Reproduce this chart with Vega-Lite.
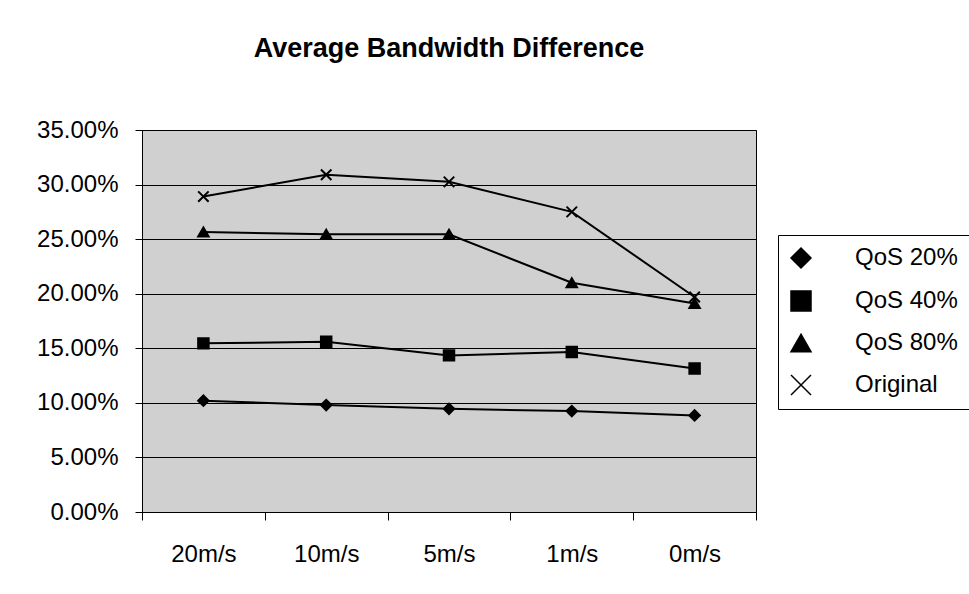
{
  "$schema": "https://vega.github.io/schema/vega-lite/v6.json",
  "width": 614,
  "height": 382,
  "autosize": {"type": "none"},
  "padding": {"left": 142, "top": 130, "right": 213, "bottom": 82},
  "background": "white",
  "config": {
    "view": {"stroke": "black", "strokeWidth": 1, "fill": "#d0d0d0"},
    "font": "Liberation Sans"
  },
  "title": {
    "text": "Average Bandwidth Difference",
    "fontSize": 27,
    "fontWeight": "bold",
    "font": "Liberation Sans",
    "color": "black",
    "anchor": "middle",
    "offset": 55
  },
  "data": {
    "values": [
      {"speed": "20m/s", "series": "QoS 20%", "label": "QoS 20%", "value": 0.102},
      {"speed": "10m/s", "series": "QoS 20%", "label": "QoS 20%", "value": 0.098},
      {"speed": "5m/s", "series": "QoS 20%", "label": "QoS 20%", "value": 0.0945},
      {"speed": "1m/s", "series": "QoS 20%", "label": "QoS 20%", "value": 0.0925},
      {"speed": "0m/s", "series": "QoS 20%", "label": "QoS 20%", "value": 0.0885},
      {"speed": "20m/s", "series": "QoS 40%", "label": "QoS 40%", "value": 0.1545},
      {"speed": "10m/s", "series": "QoS 40%", "label": "QoS 40%", "value": 0.156},
      {"speed": "5m/s", "series": "QoS 40%", "label": "QoS 40%", "value": 0.1435},
      {"speed": "1m/s", "series": "QoS 40%", "label": "QoS 40%", "value": 0.1465},
      {"speed": "0m/s", "series": "QoS 40%", "label": "QoS 40%", "value": 0.1315},
      {"speed": "20m/s", "series": "QoS 80%", "label": "QoS 80%", "value": 0.2565},
      {"speed": "10m/s", "series": "QoS 80%", "label": "QoS 80%", "value": 0.2545},
      {"speed": "5m/s", "series": "QoS 80%", "label": "QoS 80%", "value": 0.2545},
      {"speed": "1m/s", "series": "QoS 80%", "label": "QoS 80%", "value": 0.21},
      {"speed": "0m/s", "series": "QoS 80%", "label": "QoS 80%", "value": 0.191},
      {"speed": "20m/s", "series": "Original", "label": "Original", "value": 0.289},
      {"speed": "10m/s", "series": "Original", "label": "Original", "value": 0.309},
      {"speed": "5m/s", "series": "Original", "label": "Original", "value": 0.3025},
      {"speed": "1m/s", "series": "Original", "label": "Original", "value": 0.275},
      {"speed": "0m/s", "series": "Original", "label": "Original", "value": 0.197}
    ]
  },
  "encoding": {
    "x": {
      "field": "speed",
      "type": "nominal",
      "sort": ["20m/s", "10m/s", "5m/s", "1m/s", "0m/s"],
      "scale": {"type": "band", "paddingInner": 0, "paddingOuter": 0},
      "axis": {
        "title": null,
        "labelAngle": 0,
        "labelFontSize": 24,
        "labelFont": "Liberation Sans",
        "labelColor": "black",
        "tickBand": "extent",
        "tickColor": "black",
        "tickSize": 8,
        "labelPadding": 22,
        "domainColor": "black",
        "grid": false
      }
    },
    "y": {
      "field": "value",
      "type": "quantitative",
      "scale": {"domain": [0, 0.35], "nice": false},
      "axis": {
        "title": null,
        "values": [0, 0.05, 0.1, 0.15, 0.2, 0.25, 0.3, 0.35],
        "format": ".2%",
        "labelFontSize": 24,
        "labelFont": "Liberation Sans",
        "labelColor": "black",
        "tickColor": "black",
        "tickSize": 7,
        "labelPadding": 17,
        "domainColor": "black",
        "grid": true,
        "gridColor": "black",
        "gridWidth": 1,
        "gridOpacity": 1
      }
    }
  },
  "layer": [
    {
      "mark": {"type": "line", "color": "black", "strokeWidth": 2},
      "encoding": {"detail": {"field": "series", "type": "nominal"}}
    },
    {
      "mark": {"type": "point", "filled": true, "strokeWidth": 2, "size": 110, "opacity": 1},
      "encoding": {
        "shape": {
          "field": "series",
          "type": "nominal",
          "scale": {
            "domain": ["QoS 20%", "QoS 40%", "QoS 80%", "Original"],
            "range": ["diamond", "square", "triangle-up", "M-1,-1L1,1M1,-1L-1,1"]
          },
          "legend": null
        },
        "color": {
          "field": "label",
          "type": "nominal",
          "scale": {
            "domain": ["QoS 20%", "QoS 40%", "QoS 80%", "Original"],
            "range": ["black", "black", "black", "black"]
          },
          "legend": {
            "orient": "none",
            "legendX": 636,
            "legendY": 105,
            "title": null,
            "strokeColor": "black",
            "fillColor": "white",
            "padding": 11,
            "rowPadding": 17,
            "labelFontSize": 24,
            "labelFont": "Liberation Sans",
            "labelColor": "black",
            "symbolSize": 400,
            "labelOffset": 42,
            "encode": {
              "symbols": {
                "shape": {"value": {"expr": "datum.value === 'QoS 20%' ? 'M-1,0H4.5M1.8,-0.65L2.45,0L1.8,0.65L1.15,0Z' : datum.value === 'QoS 40%' ? 'M-1,0H4.5M1.25,-0.55H2.35V0.55H1.25Z' : datum.value === 'QoS 80%' ? 'M-1,0H4.5M1.8,-0.7L2.45,0.5H1.15Z' : 'M-1,0H4.5M1.25,-0.55L2.35,0.55M2.35,-0.55L1.25,0.55'"}},
                "stroke": {"value": "black"},
                "strokeWidth": {"value": 2}
              }
            }
          }
        },
        "stroke": {"value": "black"}
      }
    }
  ]
}
